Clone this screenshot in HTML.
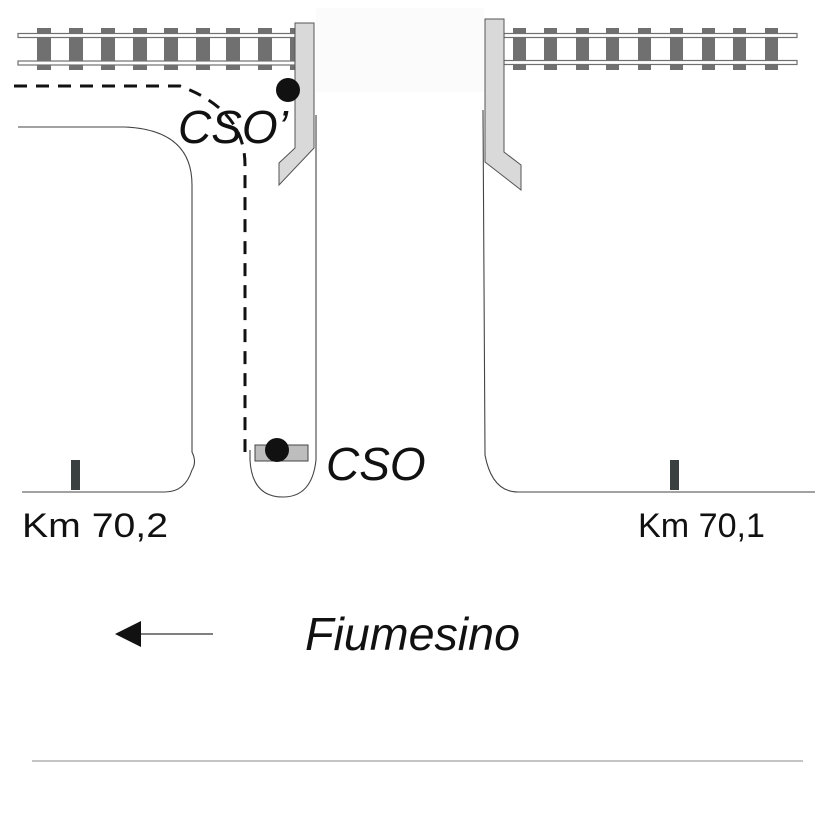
<!DOCTYPE html>
<html><head><meta charset="utf-8"><style>
html,body{margin:0;padding:0;background:#fff;}
svg{display:block;}
text{font-family:"Liberation Sans",Arial,sans-serif;}
</style></head><body>
<svg width="827" height="827" viewBox="0 0 827 827" xmlns="http://www.w3.org/2000/svg">
<rect x="316" y="8" width="168" height="84" fill="#fbfbfb"/>
<g fill="#707070">
<rect x="37" y="28" width="14" height="42"/><rect x="69" y="28" width="14" height="42"/><rect x="101" y="28" width="14" height="42"/><rect x="133" y="28" width="14" height="42"/><rect x="164" y="28" width="14" height="42"/><rect x="196" y="28" width="14" height="42"/><rect x="226" y="28" width="14" height="42"/><rect x="258" y="28" width="14" height="42"/><rect x="290" y="28" width="6" height="42"/>
</g>
<g fill="#fff" stroke="#707070" stroke-width="1.2">
<rect x="18" y="33.5" width="277" height="4"/><rect x="18" y="61" width="277" height="4"/>
</g>
<g fill="#707070">
<rect x="513" y="28" width="13" height="42"/><rect x="544" y="28" width="13" height="42"/><rect x="576" y="28" width="13" height="42"/><rect x="606" y="28" width="13" height="42"/><rect x="638" y="28" width="13" height="42"/><rect x="670" y="28" width="13" height="42"/><rect x="702" y="28" width="13" height="42"/><rect x="733" y="28" width="13" height="42"/><rect x="765" y="28" width="13" height="42"/>
</g>
<g fill="#fff" stroke="#707070" stroke-width="1.2">
<rect x="504" y="33.5" width="293" height="4"/><rect x="504" y="60.5" width="293" height="4"/>
</g>
<polygon points="295,23 314,23 314,148 279,185 279,163 295,148" fill="#d9d9d9" stroke="#555" stroke-width="1"/>
<polygon points="485,19 504,19 504,152 521,165 521,190 485,162" fill="#d9d9d9" stroke="#555" stroke-width="1"/>
<g fill="none" stroke="#444" stroke-width="1.1">
<path d="M18,127 L125,127 Q192,130 192,185 L192,452 Q197,462 192,470 Q185,492 165,492 L22,492"/>
<path d="M316,115 L316,460 Q312,497 283,497 Q252,497 250,460 L250,450"/>
<path d="M483,110 L485,455 Q492,492 518,492 L815,492"/>
<line x1="32" y1="761" x2="803" y2="761" stroke="#888"/>
</g>
<path d="M14,86 L180,86 Q245,110 245,165 L245,452" fill="none" stroke="#111" stroke-width="3" stroke-dasharray="13,9"/>
<rect x="255" y="445" width="53" height="16" fill="#bdbdbd" stroke="#444" stroke-width="1"/>
<circle cx="277" cy="450" r="12" fill="#111"/>
<circle cx="288" cy="90" r="12" fill="#111"/>
<text x="178" y="143" font-size="46" font-style="italic" fill="#111">CSO’</text>
<text x="326" y="480" font-size="46" font-style="italic" fill="#111">CSO</text>
<rect x="71" y="460" width="9" height="30" fill="#3a3f3f"/>
<rect x="670" y="460" width="9" height="30" fill="#3a3f3f"/>
<text x="22" y="537" font-size="34" fill="#111" textLength="146" lengthAdjust="spacingAndGlyphs">Km 70,2</text>
<text x="638" y="537" font-size="34" fill="#111" textLength="127" lengthAdjust="spacingAndGlyphs">Km 70,1</text>
<line x1="138" y1="634" x2="213" y2="634" stroke="#333" stroke-width="1.2"/>
<polygon points="115,634 141,621 141,647" fill="#111"/>
<text x="305" y="650" font-size="46" font-style="italic" fill="#111" textLength="215" lengthAdjust="spacingAndGlyphs">Fiumesino</text>
</svg>
</body></html>
